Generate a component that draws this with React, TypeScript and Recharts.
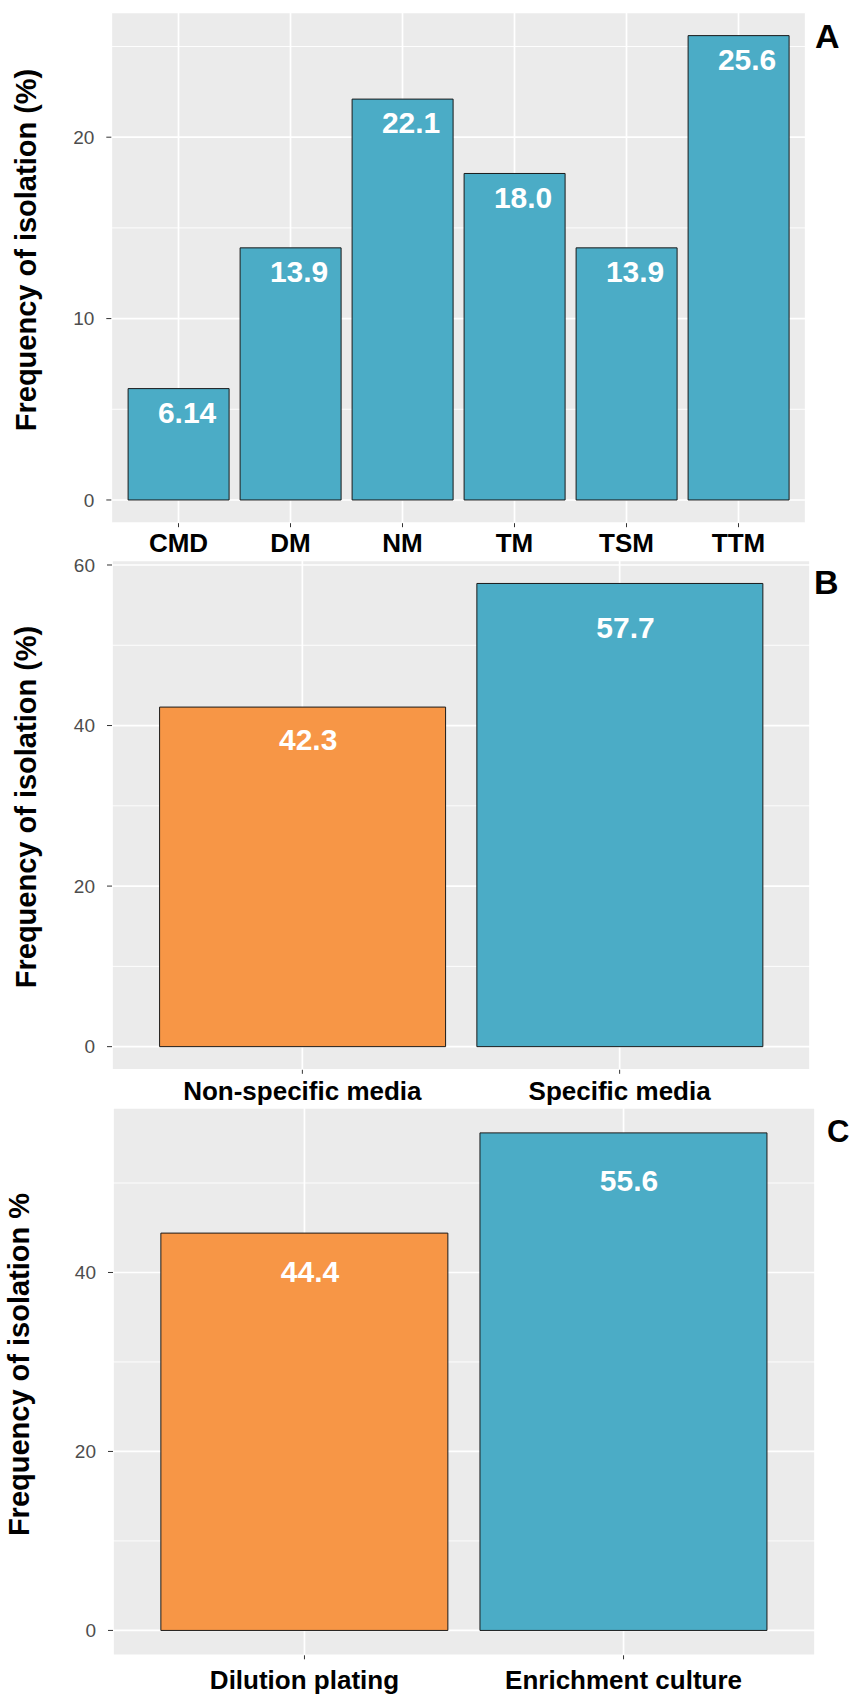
import React from 'react';
import { BarChart, Bar, Cell, XAxis, YAxis, CartesianGrid, LabelList, Label } from 'recharts';

const FONT = '"Liberation Sans", Arial, Helvetica, sans-serif';
const BLUE = '#4BACC6';
const ORANGE = '#F79646';
const PAGE_W = 855;
const PAGE_H = 1696;

// Panel A: isolation frequency by culture medium
const mediaA = ['CMD', 'DM', 'NM', 'TM', 'TSM', 'TTM'];
const freqA = [6.14, 13.9, 22.1, 18.0, 13.9, 25.6];
const majorTicksA = [0, 10, 20];
const minorTicksA = [5, 15, 25];

// Panel B: non-specific vs specific media
const mediaTypeB = ['Non-specific media', 'Specific media'];
const freqB = [42.3, 57.7];
const majorTicksB = [0, 20, 40, 60];
const minorTicksB = [10, 30, 50];

// Panel C: isolation method
const methodC = ['Dilution plating', 'Enrichment culture'];
const freqC = [44.4, 55.6];
const majorTicksC = [0, 20, 40];
const minorTicksC = [10, 30, 50];

interface PanelProps {
  categories: string[];
  values: number[];
  majorTicks: number[];
  minorTicks: number[];
  fills: string[];
  yTitle: string;
  top: number;
  height: number;
  plot: { left: number; right: number; top: number; bottom: number };
  titleX: number;
  titleY: number;
  tickBaseline: number;
  labelMode: 'fixed' | 'ratio';
  labelDx: number;
}

function Panel(p: PanelProps) {
  const n = p.categories.length;
  const data = p.categories.map((c, i) => ({ cat: c, value: p.values[i] }));
  const max = Math.max(...p.values);
  // ggplot-style 5% expansion on the value axis
  const domain: [number, number] = [-0.05 * max, 1.05 * max];
  // ggplot discrete axis: 0.6 units of padding each side
  const step = (p.plot.right - p.plot.left) / (n + 0.2);
  const pad = 0.1 * step;
  const xAxisH = 40;
  const margin = {
    top: p.plot.top - p.top,
    right: PAGE_W - p.plot.right,
    left: 0,
    bottom: p.top + p.height - p.plot.bottom - xAxisH,
  };

  const renderValue = (props: any) => {
    const { x, y, width, height, value } = props;
    const cy = p.labelMode === 'fixed' ? Number(y) + 23.6 : Number(y) + Number(height) * 0.095;
    return (
      <text
        x={Number(x) + Number(width) / 2 + p.labelDx}
        y={cy + 10.7}
        textAnchor="middle"
        fill="#ffffff"
        fontSize={30}
        fontWeight="bold"
        fontFamily={FONT}
      >
        {Number(value).toPrecision(3)}
      </text>
    );
  };

  const renderXTick = (props: any) => {
    const { x, y, payload } = props;
    return (
      <text
        x={x}
        y={Number(y) - 6 + p.tickBaseline}
        textAnchor="middle"
        fill="#000"
        fontSize={26}
        fontWeight="bold"
        fontFamily={FONT}
      >
        {payload.value}
      </text>
    );
  };

  const renderTitle = () => (
    <text
      x={p.titleX}
      y={p.titleY - p.top}
      transform={`rotate(-90, ${p.titleX}, ${p.titleY - p.top})`}
      textAnchor="middle"
      fill="#000"
      fontSize={29}
      fontWeight="bold"
      fontFamily={FONT}
    >
      {p.yTitle}
    </text>
  );

  return (
    <div style={{ position: 'absolute', top: p.top, left: 0 }}>
      <BarChart width={PAGE_W} height={p.height} data={data} margin={margin} barCategoryGap="5%">
        <CartesianGrid
          horizontalValues={p.minorTicks}
          vertical={false}
          stroke="#ffffff"
          strokeWidth={0.9}
          fill="#EBEBEB"
          fillOpacity={1}
        />
        <CartesianGrid stroke="#ffffff" strokeWidth={1.7} />
        <XAxis
          dataKey="cat"
          type="category"
          height={xAxisH}
          padding={{ left: pad, right: pad }}
          axisLine={false}
          tickLine={{ stroke: '#333333' }}
          tickSize={4}
          tickMargin={2}
          interval={0}
          tick={renderXTick}
        />
        <YAxis
          type="number"
          width={p.plot.left}
          domain={domain}
          ticks={p.majorTicks}
          allowDataOverflow
          axisLine={false}
          tickLine={{ stroke: '#333333' }}
          tickSize={5}
          tickMargin={12}
          tick={{ fontSize: 19, fill: '#4D4D4D', fontFamily: FONT }}
        >
          <Label content={renderTitle} />
        </YAxis>
        <Bar dataKey="value" stroke="#1a1a1a" strokeWidth={1} isAnimationActive={false}>
          {data.map((d, i) => (
            <Cell key={d.cat} fill={p.fills[i]} />
          ))}
          <LabelList dataKey="value" content={renderValue} />
        </Bar>
      </BarChart>
    </div>
  );
}

export default function App() {
  return (
    <div
      style={{
        position: 'absolute',
        top: 0,
        left: 0,
        width: PAGE_W,
        height: PAGE_H,
        background: '#ffffff',
        fontFamily: FONT,
      }}
    >
      <Panel
        categories={mediaA}
        values={freqA}
        majorTicks={majorTicksA}
        minorTicks={minorTicksA}
        fills={mediaA.map(() => BLUE)}
        yTitle="Frequency of isolation (%)"
        top={0}
        height={565}
        plot={{ left: 111.3, right: 805.7, top: 12.4, bottom: 523.2 }}
        titleX={35.8}
        titleY={250}
        tickBaseline={28.6}
        labelMode="fixed"
        labelDx={8.5}
      />
      <Panel
        categories={mediaTypeB}
        values={freqB}
        majorTicks={majorTicksB}
        minorTicks={minorTicksB}
        fills={[ORANGE, BLUE]}
        yTitle="Frequency of isolation (%)"
        top={540}
        height={580}
        plot={{ left: 112, right: 810, top: 560.3, bottom: 1069.8 }}
        titleX={35.8}
        titleY={807}
        tickBaseline={30}
        labelMode="ratio"
        labelDx={5.6}
      />
      <Panel
        categories={methodC}
        values={freqC}
        majorTicks={majorTicksC}
        minorTicks={minorTicksC}
        fills={[ORANGE, BLUE]}
        yTitle="Frequency of isolation %"
        top={1090}
        height={606}
        plot={{ left: 113, right: 815, top: 1108, bottom: 1655.3 }}
        titleX={29}
        titleY={1364.5}
        tickBaseline={33.7}
        labelMode="ratio"
        labelDx={5.6}
      />
      <svg
        width={PAGE_W}
        height={PAGE_H}
        style={{ position: 'absolute', top: 0, left: 0, pointerEvents: 'none' }}
      >
        <text x={815} y={48.3} fontSize={34} fontWeight="bold" fontFamily={FONT} fill="#000">
          A
        </text>
        <text x={814} y={594.3} fontSize={34} fontWeight="bold" fontFamily={FONT} fill="#000">
          B
        </text>
        <text x={827} y={1142.3} fontSize={31} fontWeight="bold" fontFamily={FONT} fill="#000">
          C
        </text>
      </svg>
    </div>
  );
}
